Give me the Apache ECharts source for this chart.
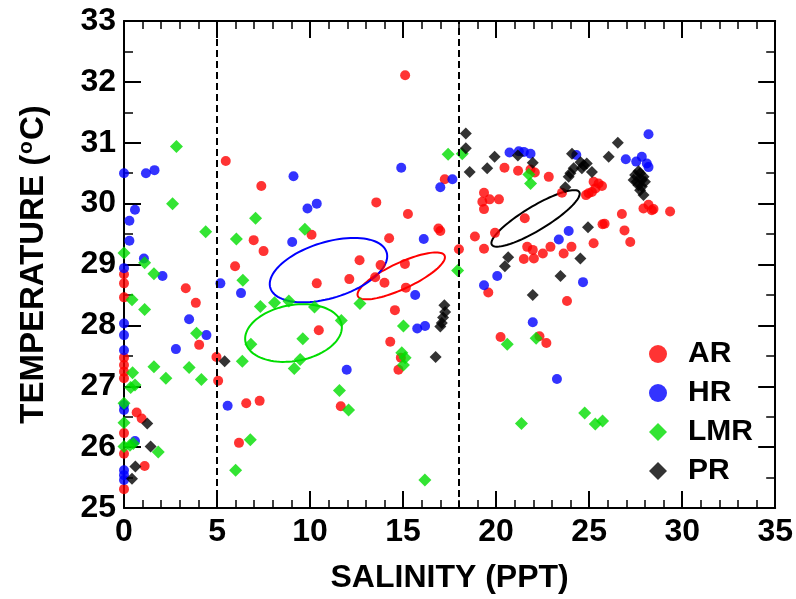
<!DOCTYPE html>
<html><head><meta charset="utf-8">
<script src="https://cdn.jsdelivr.net/npm/echarts@6/dist/echarts.min.js"></script>
<style>html,body{margin:0;padding:0;background:#fff}#c{width:796px;height:599px}</style>
</head><body><div id="c"></div>
<script>
// ---- data: [salinity (ppt), temperature (°C)] ----
const arPoints = [
 [0,28.84],[0,28.69],[0,28.46],[0,27.47],[0,27.35],[0,27.24],[0,27.13],[0,26.23],[0,25.89],[0,25.31],
 [0.68,26.57],[0.95,26.47],[1.11,25.69],
 [3.32,28.61],[3.86,28.37],[4.04,27.68],[4.97,27.48],[5.06,27.09],
 [5.47,30.70],[7.38,30.29],[6.97,29.40],[7.5,29.22],[5.97,28.97],
 [6.57,26.72],[7.29,26.76],[6.18,26.07],
 [10.08,29.49],[10.36,28.69],[10.47,27.92],
 [15.11,32.11],[17.24,30.40],[13.56,30.02],[15.26,29.83],[16.9,29.59],[17.0,29.55],[14.25,29.43],[18.86,29.46],[18.0,29.25],
 [12.66,29.07],[13.79,28.99],[15.1,29.01],[12.11,28.76],[13.5,28.79],[14.0,28.70],[15.15,28.62],
 [14.56,28.25],[14.31,27.73],[14.88,27.47],[14.75,27.27],[11.65,26.67],
 [20.45,30.59],[21.18,30.54],[21.85,30.56],[22.08,30.51],[22.83,30.44],
 [19.35,30.18],[19.26,30.03],[19.65,30.07],[20.15,30.07],[19.35,29.91],
 [21.54,29.76],[23.54,30.18],
 [25.24,30.36],[25.51,30.33],[25.69,30.29],[25.34,30.25],[25.15,30.19],[24.97,30.17],[24.83,30.14],
 [26.76,29.83],[27.92,29.92],[28.19,29.98],[28.37,29.89],[28.46,29.91],[29.35,29.87],
 [25.83,29.67],[25.72,29.66],[26.9,29.56],[27.21,29.37],
 [19.94,29.52],[19.35,29.26],
 [21.67,29.29],[21.97,29.24],[21.49,29.09],[22.03,29.10],[22.51,29.18],[22.92,29.29],[23.63,29.18],[24.05,29.29],[25.24,29.35],
 [19.58,28.54],[23.81,28.40],
 [20.24,27.81],[22.33,27.82],[22.70,27.71]
];
const hrPoints = [
 [0,30.5],[1.18,30.5],[1.64,30.55],[0.59,29.9],[0.29,29.72],[0.29,29.39],[1.07,29.1],[0,28.94],[2.07,28.81],
 [0,28.03],[3.5,28.10],[4.43,27.84],[0,27.84],[2.79,27.61],[0,27.59],[0,26.69],[0,26.61],[0.59,26.10],
 [0,25.62],[0,25.54],[0,25.46],
 [9.11,30.45],[9.86,29.92],[10.36,30.0],[9.04,29.37],[5.18,28.69],[6.29,28.53],[5.57,26.68],
 [14.9,30.59],[17.65,30.40],[17.0,30.27],[16.11,29.42],[15.65,28.50],[15.76,27.95],[16.18,27.99],[11.97,27.27],
 [20.72,30.84],[21.22,30.86],[21.49,30.85],[21.85,30.82],[24.31,30.80],
 [28.19,31.14],[26.97,30.73],[27.53,30.69],[27.83,30.77],[28.1,30.66],[28.19,30.60],
 [23.9,29.55],[23.37,29.41],[20.06,28.81],[19.35,28.66],[24.67,28.71],[21.97,28.05],[23.27,27.12]
];
const lmrPoints = [
 [2.82,30.94],[2.61,30.0],[7.07,29.76],[4.39,29.54],[6.04,29.42],[9.72,29.58],[0,29.19],[1.11,29.03],[1.61,28.85],
 [0.43,28.42],[1.11,28.26],[6.39,28.74],[3.9,27.87],[6.36,27.41],[0.46,27.22],[1.61,27.32],[3.5,27.31],[2.25,27.13],
 [4.16,27.11],[0.36,26.98],[0.59,27.02],[0,26.72],[0,26.40],[0,26.01],[0.32,26.03],[0.5,26.06],[1.84,25.92],
 [6.79,26.12],[6.0,25.62],
 [7.33,28.31],[8.09,28.37],[8.86,28.40],[10.24,28.30],[9.61,27.78],[6.82,27.69],[9.47,27.44],[9.15,27.29],
 [17.42,30.81],[18.18,30.82],[17.93,28.9],[12.68,28.36],[11.68,28.08],[15.02,27.99],[14.93,27.55],[15.11,27.47],
 [15.02,27.35],[11.58,26.93],[12.07,26.61],[16.17,25.46],
 [21.76,30.48],[21.85,30.33],[20.6,27.69],[22.15,27.79],[24.76,26.56],[25.33,26.38],[25.72,26.43],[21.36,26.39]
];
const prPoints = [
 [5.41,27.41],[1.25,26.39],[1.43,26.01],[0.61,25.68],[0.43,25.48],
 [18.37,31.15],[18.37,30.91],[18.58,30.52],
 [17.22,28.33],[17.26,28.22],[17.15,28.13],[17.08,28.04],[17.0,27.98],[16.75,27.48],
 [19.92,30.77],[19.52,30.58],[21.17,30.79],[21.97,30.67],
 [24.08,30.82],[24.54,30.68],[24.71,30.63],[24.87,30.66],[24.17,30.58],[23.99,30.50],[23.90,30.44],[24.61,30.58],[25.15,30.52],
 [26.05,30.77],[26.54,31.0],
 [27.65,30.53],[27.47,30.47],[27.74,30.50],[27.92,30.44],[27.39,30.39],[27.56,30.36],[27.83,30.39],[28.0,30.36],
 [27.65,30.30],[27.83,30.28],[27.74,30.22],[27.92,30.14],
 [23.72,30.27],[24.94,29.61],[20.65,29.12],[20.47,28.97],[24.53,29.10],[23.46,28.81],[21.97,28.5]
];
// ellipses: centre and two conjugate half-axis vectors (data units)
const ellipseNames = ['AR','HR','LMR','PR'];
const ellipseCentres = [[14.90,28.813],[10.99,28.908],[9.11,27.874],[22.12,29.757]];
const ellipseAxisU = [[2.331,0.3331],[3.126,0.2929],[2.586,0.1397],[2.35,0.433]];
const ellipseAxisV = [[-0.2944,0.1935],[-0.4387,0.4397],[-0.2605,0.4528],[-0.3312,0.1689]];
const dividerSalinity = [5, 18];

const COLORS = {AR:'#ff0000', HR:'#0000ff', LMR:'#00dd00', PR:'#000000'};
const FONT = "'Liberation Sans', Arial, Helvetica, sans-serif";

const chart = echarts.init(document.getElementById('c'), null, {renderer:'canvas'});

const ellipseData = ellipseCentres.map((c,i)=>[c[0],c[1],ellipseAxisU[i][0],ellipseAxisU[i][1],ellipseAxisV[i][0],ellipseAxisV[i][1],i]);

function axisCommon(extra){
  return Object.assign({
    type:'value',
    axisLine:{show:true,onZero:false,lineStyle:{color:'#000',width:2}},
    axisTick:{show:true,inside:true,length:17,lineStyle:{color:'#000',width:2}},
    splitLine:{show:false}, minorSplitLine:{show:false}
  }, extra);
}
const labelStyle = {fontSize:32,fontWeight:'bold',color:'#000',fontFamily:FONT};
const xMinor = {show:true,splitNumber:5,length:8,lineStyle:{color:'#000',width:1.5}};
const yMinor = {show:true,splitNumber:2,length:9,lineStyle:{color:'#000',width:1.5}};

chart.setOption({
  animation:false,
  backgroundColor:'#fff',
  grid:{left:124,right:19,top:21,bottom:91,containLabel:false},
  xAxis:[
    axisCommon({min:0,max:35,interval:5,position:'bottom',minorTick:xMinor,
      axisLabel:Object.assign({margin:8},labelStyle),
      name:'SALINITY (PPT)',nameLocation:'middle',nameGap:54,
      nameTextStyle:{fontSize:32,fontWeight:'bold',color:'#000',fontFamily:FONT}}),
    axisCommon({min:0,max:35,interval:5,position:'top',minorTick:xMinor,axisLabel:{show:false}})
  ],
  yAxis:[
    axisCommon({min:25,max:33,interval:1,position:'left',minorTick:yMinor,
      axisLabel:Object.assign({margin:8},labelStyle),
      name:'TEMPERATURE ({sup|o}C)',nameLocation:'middle',nameGap:72,nameRotate:90,
      nameTextStyle:{fontSize:33,fontWeight:'bold',color:'#000',fontFamily:FONT,lineHeight:36,
        rich:{sup:{fontSize:21,fontWeight:'bold',fontFamily:FONT,color:'#000',verticalAlign:'top',lineHeight:36,padding:[0,1,0,1]}}}}),
    axisCommon({min:25,max:33,interval:1,position:'right',minorTick:yMinor,axisLabel:{show:false}})
  ],
  legend:{
    orient:'vertical',left:644,top:334,itemWidth:18,itemHeight:18,itemGap:9,
    textStyle:{fontSize:30,fontWeight:'bold',color:'#000',fontFamily:FONT,padding:[0,0,0,16]},
    data:[{name:'AR',icon:'circle'},{name:'HR',icon:'circle'},{name:'LMR',icon:'diamond'},{name:'PR',icon:'diamond'}]
  },
  series:[
    {type:'custom',name:'ellipses',silent:true,z:1,data:ellipseData,encode:{x:0,y:1},
     renderItem:function(params,api){
       const cx=api.value(0), cy=api.value(1);
       const c=api.coord([cx,cy]);
       const pu=api.coord([cx+api.value(2),cy+api.value(3)]);
       const pv=api.coord([cx+api.value(4),cy+api.value(5)]);
       const U=[pu[0]-c[0],pu[1]-c[1]], V=[pv[0]-c[0],pv[1]-c[1]];
       const pts=[];
       for(let k=0;k<96;k++){const t=k/96*Math.PI*2;pts.push([c[0]+U[0]*Math.cos(t)+V[0]*Math.sin(t),c[1]+U[1]*Math.cos(t)+V[1]*Math.sin(t)]);}
       const col=COLORS[ellipseNames[api.value(6)]];
       return {type:'polygon',shape:{points:pts},style:{fill:'none',stroke:col,lineWidth:2}};
     },
     markLine:{silent:true,symbol:'none',label:{show:false},
       lineStyle:{color:'#000',width:2,type:[7,4]},
       data:dividerSalinity.map(v=>({xAxis:v}))}
    },
    {type:'scatter',name:'AR',data:arPoints,symbol:'circle',symbolSize:10,itemStyle:{color:COLORS.AR},z:2},
    {type:'scatter',name:'HR',data:hrPoints,symbol:'circle',symbolSize:10,itemStyle:{color:COLORS.HR},z:3},
    {type:'scatter',name:'LMR',data:lmrPoints,symbol:'diamond',symbolSize:13,itemStyle:{color:COLORS.LMR},z:4},
    {type:'scatter',name:'PR',data:prPoints,symbol:'diamond',symbolSize:12,itemStyle:{color:COLORS.PR},z:5}
  ]
});
</script></body></html>
